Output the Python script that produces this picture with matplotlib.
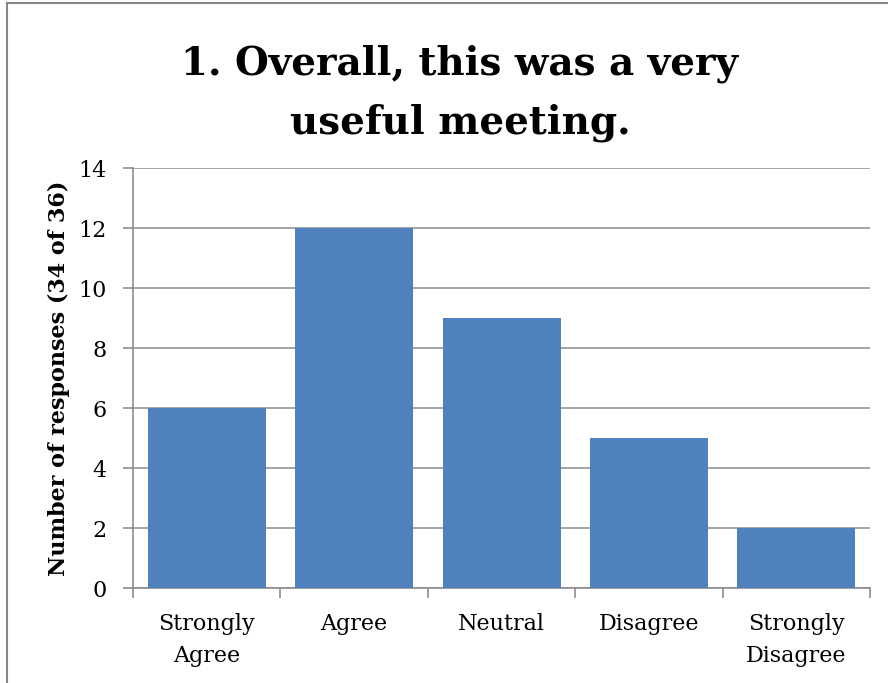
import matplotlib
matplotlib.use('Agg')
import matplotlib.pyplot as plt
from matplotlib.lines import Line2D

categories = ['Strongly\nAgree', 'Agree', 'Neutral', 'Disagree', 'Strongly\nDisagree']
responses = [6, 12, 9, 5, 2]
y_ticks = [0, 2, 4, 6, 8, 10, 12, 14]

plt.rcParams['font.family'] = ['DejaVu Serif']

fig = plt.figure(figsize=(8.88, 6.83), dpi=100)
ax = fig.add_axes([0.1498, 0.139, 0.830, 0.615])

x = range(len(categories))
ax.bar(x, responses, width=0.8, color='#4F81BD', zorder=3)

ax.set_xlim(-0.5, len(categories) - 0.5)
ax.set_ylim(0, 14)
ax.set_yticks(y_ticks)
ax.set_yticklabels([str(v) for v in y_ticks], fontsize=16)
ax.yaxis.grid(True, color='#8C8C8C', linewidth=1.1, zorder=0)

# category labels between boundary ticks
ax.set_xticks([i - 0.5 for i in range(len(categories) + 1)])
ax.set_xticklabels([])
ax.set_xticks(list(x), minor=True)
ax.set_xticklabels(categories, minor=True, fontsize=16, linespacing=1.6)
ax.tick_params(axis='x', which='minor', length=0, pad=18)
ax.tick_params(axis='x', which='major', length=7, width=1.2, color='#8C8C8C')
ax.tick_params(axis='y', length=7, width=1.2, color='#8C8C8C', pad=12)

for side in ['top', 'right']:
    ax.spines[side].set_visible(False)
for side in ['left', 'bottom']:
    ax.spines[side].set_color('#8C8C8C')
    ax.spines[side].set_linewidth(1.2)

ax.set_ylabel('Number of responses (34 of 36)', fontsize=16, fontweight='bold', labelpad=6)
fig.text(0.518, 0.864, '1. Overall, this was a very\nuseful meeting.', ha='center', va='center',
         fontsize=28, fontweight='bold', linespacing=1.68)

# outer chart frame (left and top edges visible)
fig.add_artist(Line2D([0.008, 0.008], [0, 0.996], color='#868686', linewidth=1.5, transform=fig.transFigure))
fig.add_artist(Line2D([0.008, 1.0], [0.996, 0.996], color='#868686', linewidth=1.5, transform=fig.transFigure))

fig.savefig('out.png', dpi=100)
